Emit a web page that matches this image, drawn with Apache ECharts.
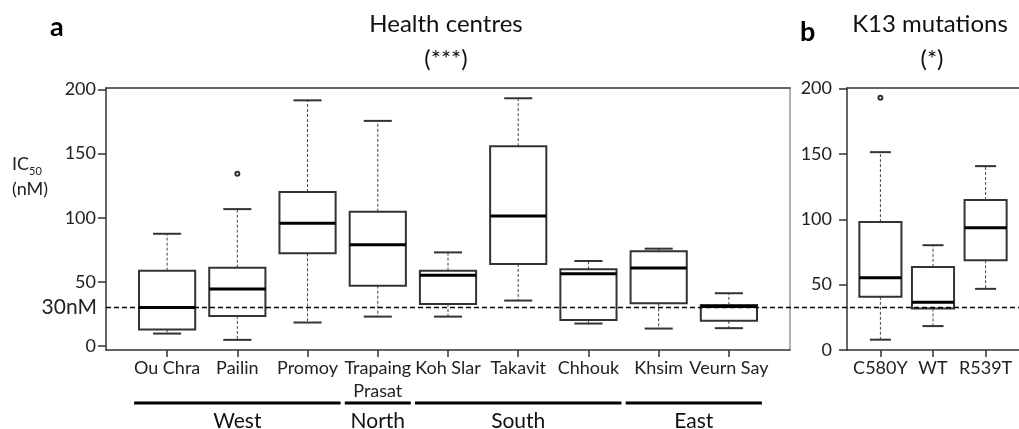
<!DOCTYPE html>
<html>
<head>
<meta charset="utf-8">
<script src="https://cdn.jsdelivr.net/npm/echarts@6/dist/echarts.min.js"></script>
<style>
  html, body { margin: 0; padding: 0; background: #fff; }
  #chart { width: 1019px; height: 429px; }
</style>
</head>
<body>
<div id="chart"></div>
<script>
// health centres (panel a)
const centres = ['Ou Chra', 'Pailin', 'Promoy', 'Trapaing\nPrasat', 'Koh Slar', 'Takavit', 'Chhouk', 'Khsim', 'Veurn Say']
// [low whisker, Q1, median, Q3, high whisker]
const centreBoxes = [
  [9.8, 12.9, 30, 58.8, 87.5],
  [4.9, 23.5, 44.5, 61.1, 106.7],
  [18.4, 72.3, 95.6, 120, 191.4],
  [23, 47.1, 79, 104.6, 175.4],
  [23, 32.9, 55.2, 58.8, 73],
  [35.5, 64, 101.3, 155.7, 193],
  [17.6, 20.4, 56.4, 59.8, 66.3],
  [13.7, 33.4, 60.9, 73.8, 75.9],
  [14, 19.7, 30.8, 32.1, 41.2]
]
const centreOutliers = [[1, 134.2]]
const regions = [
  ['West', 0, 2],
  ['North', 3, 3],
  ['South', 4, 6],
  ['East', 7, 8]
]

// K13 mutations (panel b)
const mutations = ['C580Y', 'WT', 'R539T']
const mutationBoxes = [
  [7.9, 40.7, 55.2, 97.9, 151.4],
  [18.3, 31.8, 36.6, 63.6, 80.2],
  [46.8, 68.7, 93.6, 114.8, 140.7]
]
const mutationOutliers = [[0, 193]]

const yTicks = [0, 50, 100, 150, 200]
const threshold = 30

const FONT = 'Lato'
const chart = echarts.init(document.getElementById('chart'))

function boxItem (params, api) {
  const x = api.value(0)
  const lo = api.value(1)
  const q1 = api.value(2)
  const med = api.value(3)
  const q3 = api.value(4)
  const hi = api.value(5)
  const half = 0.4
  const cap = 0.2
  const c = (a, b) => api.coord([a, b])
  const tl = c(x - half, q3)
  const br = c(x + half, q1)
  const whisker = { stroke: '#444', lineWidth: 1, lineDash: [3, 2] }
  const capStyle = { stroke: '#333', lineWidth: 2 }
  return {
    type: 'group',
    children: [
      { type: 'line', shape: { x1: c(x, q3)[0], y1: c(x, q3)[1], x2: c(x, hi)[0], y2: c(x, hi)[1] }, style: whisker },
      { type: 'line', shape: { x1: c(x, q1)[0], y1: c(x, q1)[1], x2: c(x, lo)[0], y2: c(x, lo)[1] }, style: whisker },
      { type: 'line', shape: { x1: c(x - cap, hi)[0], y1: c(x, hi)[1], x2: c(x + cap, hi)[0], y2: c(x, hi)[1] }, style: capStyle },
      { type: 'line', shape: { x1: c(x - cap, lo)[0], y1: c(x, lo)[1], x2: c(x + cap, lo)[0], y2: c(x, lo)[1] }, style: capStyle },
      { type: 'rect', shape: { x: tl[0], y: tl[1], width: br[0] - tl[0], height: br[1] - tl[1] }, style: { fill: '#fff', stroke: '#333', lineWidth: 2 } },
      { type: 'line', shape: { x1: tl[0], y1: c(x, med)[1], x2: br[0], y2: c(x, med)[1] }, style: { stroke: '#000', lineWidth: 3 } }
    ]
  }
}

function regionItem (params, api) {
  const s = api.value(0)
  const e = api.value(1)
  const cs = params.coordSys
  const y = cs.y + cs.height + 53
  const x1 = api.coord([s - 0.47, 0])[0]
  const x2 = api.coord([e + 0.47, 0])[0]
  return {
    type: 'group',
    children: [
      { type: 'line', shape: { x1: x1, y1: y, x2: x2, y2: y }, style: { stroke: '#000', lineWidth: 3 } },
      { type: 'text', x: (x1 + x2) / 2, y: y + 18, style: { text: regions[params.dataIndex][0], font: '21px ' + FONT, fill: '#111', align: 'center', verticalAlign: 'middle' } }
    ]
  }
}

function catAxis (grid, min, max, names) {
  const idx = names.map((n, i) => i)
  return {
    gridIndex: grid,
    type: 'value',
    min: min,
    max: max,
    splitLine: { show: false },
    axisLine: { onZero: false, lineStyle: { color: '#333', width: 1.5 } },
    axisTick: { customValues: idx, length: 7, lineStyle: { color: '#333', width: 1.5 } },
    axisLabel: {
      customValues: idx,
      formatter: (v) => names[Math.round(v)],
      color: '#222',
      fontFamily: FONT,
      fontSize: 18,
      lineHeight: 23,
      margin: 7
    }
  }
}

function valAxis (grid, min, max, margin) {
  return {
    gridIndex: grid,
    type: 'value',
    min: min,
    max: max,
    splitLine: { show: false },
    axisLine: { show: true, onZero: false, lineStyle: { color: '#333', width: 1.5 } },
    axisTick: { show: true, customValues: yTicks, length: 8, lineStyle: { color: '#333', width: 1.5 } },
    axisLabel: { customValues: yTicks, color: '#222', fontFamily: FONT, fontSize: 18, margin: margin }
  }
}

function borderAxis (grid, pos, color) {
  return {
    gridIndex: grid,
    type: 'value',
    position: pos,
    splitLine: { show: false },
    axisTick: { show: false },
    axisLabel: { show: false },
    axisLine: { show: true, onZero: false, lineStyle: { color: color, width: 1.5 } }
  }
}

const outlierStyle = { color: '#000', borderColor: '#000', borderWidth: 1.1 }

const option = {
  animation: false,
  grid: [
    { left: 106, right: 229, top: 88, bottom: 79 },
    { left: 847, right: -2, top: 88, bottom: 79 },
    { left: 106, right: 0, top: 88, bottom: 79 }
  ],
  xAxis: [
    catAxis(0, -0.87, 8.87, centres),
    Object.assign(borderAxis(0, 'top', '#333'), { min: -0.87, max: 8.87 }),
    catAxis(1, -0.635, 2.635, mutations),
    Object.assign(borderAxis(1, 'top', '#333'), { min: -0.635, max: 2.635 }),
    { gridIndex: 2, type: 'value', min: 0, max: 1, show: false }
  ],
  yAxis: [
    valAxis(0, -3, 201, 10),
    Object.assign(borderAxis(0, 'right', '#999'), { min: -3, max: 201 }),
    valAxis(1, 0, 200.5, 15),
    { gridIndex: 2, type: 'value', min: -3, max: 201, show: false }
  ],
  graphic: [
    { type: 'text', x: 50, y: 27, style: { text: 'a', font: 'bold 27px ' + FONT, fill: '#000', verticalAlign: 'middle' } },
    { type: 'text', x: 800, y: 32, style: { text: 'b', font: 'bold 27px ' + FONT, fill: '#000', verticalAlign: 'middle' } },
    { type: 'text', x: 446, y: 24, style: { text: 'Health centres', font: '24px ' + FONT, fill: '#111', align: 'center', verticalAlign: 'middle' } },
    { type: 'text', x: 446, y: 59, style: { text: '(***)', font: '24px ' + FONT, fill: '#111', align: 'center', verticalAlign: 'middle' } },
    { type: 'text', x: 930, y: 24, style: { text: 'K13 mutations', font: '24px ' + FONT, fill: '#111', align: 'center', verticalAlign: 'middle' } },
    { type: 'text', x: 932, y: 59, style: { text: '(*)', font: '24px ' + FONT, fill: '#111', align: 'center', verticalAlign: 'middle' } },
    {
      type: 'text',
      x: 12,
      y: 155,
      style: {
        text: '{a|IC}{s|50}',
        rich: {
          a: { fontFamily: FONT, fontSize: 18, fill: '#222', verticalAlign: 'bottom' },
          s: { fontFamily: FONT, fontSize: 11, fill: '#222', verticalAlign: 'bottom', padding: [0, 0, -4, 0] }
        }
      }
    },
    { type: 'text', x: 12, y: 189, style: { text: '(nM)', font: '18px ' + FONT, fill: '#222', verticalAlign: 'middle' } }
  ],
  series: [
    {
      type: 'custom',
      xAxisIndex: 0,
      yAxisIndex: 0,
      renderItem: boxItem,
      data: centreBoxes.map((b, i) => [i].concat(b)),
      z: 3
    },
    {
      type: 'custom',
      xAxisIndex: 0,
      yAxisIndex: 0,
      renderItem: regionItem,
      clip: false,
      data: regions.map((r) => [r[1], r[2]])
    },
    {
      type: 'scatter',
      xAxisIndex: 0,
      yAxisIndex: 0,
      symbol: 'emptyCircle',
      symbolSize: 4,
      itemStyle: outlierStyle,
      data: centreOutliers,
      z: 4
    },
    {
      type: 'custom',
      xAxisIndex: 2,
      yAxisIndex: 2,
      renderItem: boxItem,
      data: mutationBoxes.map((b, i) => [i].concat(b)),
      z: 3
    },
    {
      type: 'scatter',
      xAxisIndex: 2,
      yAxisIndex: 2,
      symbol: 'emptyCircle',
      symbolSize: 4,
      itemStyle: outlierStyle,
      data: mutationOutliers,
      z: 4
    },
    {
      type: 'line',
      xAxisIndex: 4,
      yAxisIndex: 3,
      data: [],
      z: 10,
      markLine: {
        silent: true,
        symbol: ['none', 'none'],
        lineStyle: { color: '#000', width: 1.3, type: [5, 3] },
        label: { show: true, position: 'start', formatter: '30nM', fontFamily: FONT, fontSize: 21, color: '#222', distance: 9 },
        data: [{ yAxis: threshold }]
      }
    }
  ]
}
chart.setOption(option)
</script>
</body>
</html>
